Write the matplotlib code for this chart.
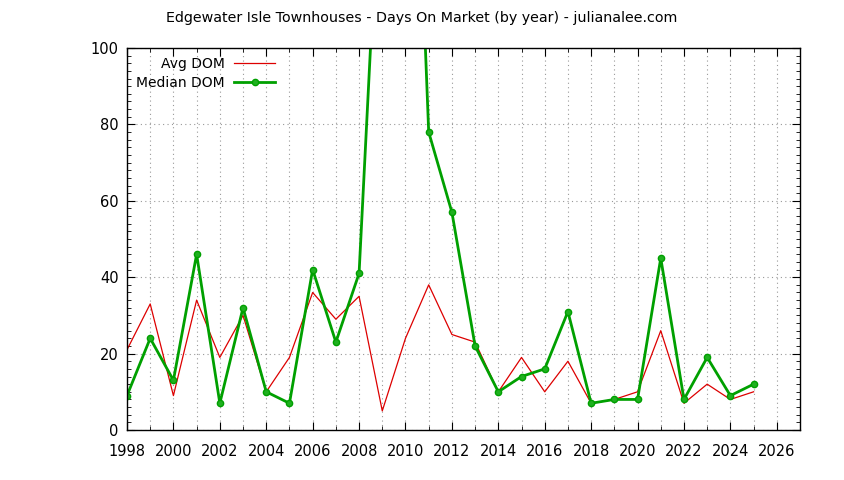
import numpy as np
import matplotlib
matplotlib.use('Agg')
import matplotlib.pyplot as plt
from matplotlib.ticker import MultipleLocator

# Values
years = list(range(1998, 2026))
avg_dom = [21, 33, 9, 34, 19, 30, 10, 19, 36, 29, 35, 5, 24, 38,
           25, 23, 10, 19, 10, 18, 7, 8, 10, 26, 7, 12, 8, 10]
median_dom = [9, 24, 13, 46, 7, 32, 10, 7, 42, 23, 41, 161, 233, 78,
              57, 22, 10, 14, 16, 31, 7, 8, 8, 45, 8, 19, 9, 12]
x_ticks = list(range(1998, 2027, 2))

plt.rcParams['font.family'] = ['DejaVu Sans']

fig = plt.figure(figsize=(8.44, 4.8), dpi=100)
ax = fig.add_axes([127 / 844, 1 - 430 / 480, (800 - 127) / 844, (430 - 48) / 480])

ax.plot(years, avg_dom, color='#dd0000', lw=0.9, label='Avg DOM')
ax.plot(years, median_dom, color='#00a000', lw=2, marker='o', ms=4.5,
        mfc='#20b020', mec='#00a000', label='Median DOM')

ax.set_xlim(1998, 2027)
ax.set_ylim(0, 100)
ax.set_xticks(x_ticks)
ax.xaxis.set_minor_locator(MultipleLocator(1))
ax.yaxis.set_major_locator(MultipleLocator(20))
ax.yaxis.set_minor_locator(MultipleLocator(2))
ax.tick_params(which='both', direction='in', top=True, right=True,
               labelsize=10.5, color='black')
ax.tick_params(which='major', length=6)
ax.tick_params(which='minor', length=3)
ax.tick_params(axis='x', which='major', pad=10)
ax.tick_params(axis='y', which='major', pad=6)

ax.grid(which='both', axis='x', color='#999999', linestyle=(0, (1, 3)), lw=0.8)
ax.grid(which='major', axis='y', color='#999999', linestyle=(0, (1, 3)), lw=0.8)
for s in ax.spines.values():
    s.set_linewidth(1)

ax.legend(loc='upper left', frameon=False, markerfirst=False, fontsize=10,
          handlelength=2.9, handletextpad=0.7, borderaxespad=0.25,
          labelspacing=0.35, bbox_to_anchor=(0.0, 1.0))

fig.text(0.5, 1 - 18 / 480, 'Edgewater Isle Townhouses - Days On Market (by year) - julianalee.com',
         ha='center', va='center', fontsize=10.3)

fig.savefig('out.png', dpi=100)
